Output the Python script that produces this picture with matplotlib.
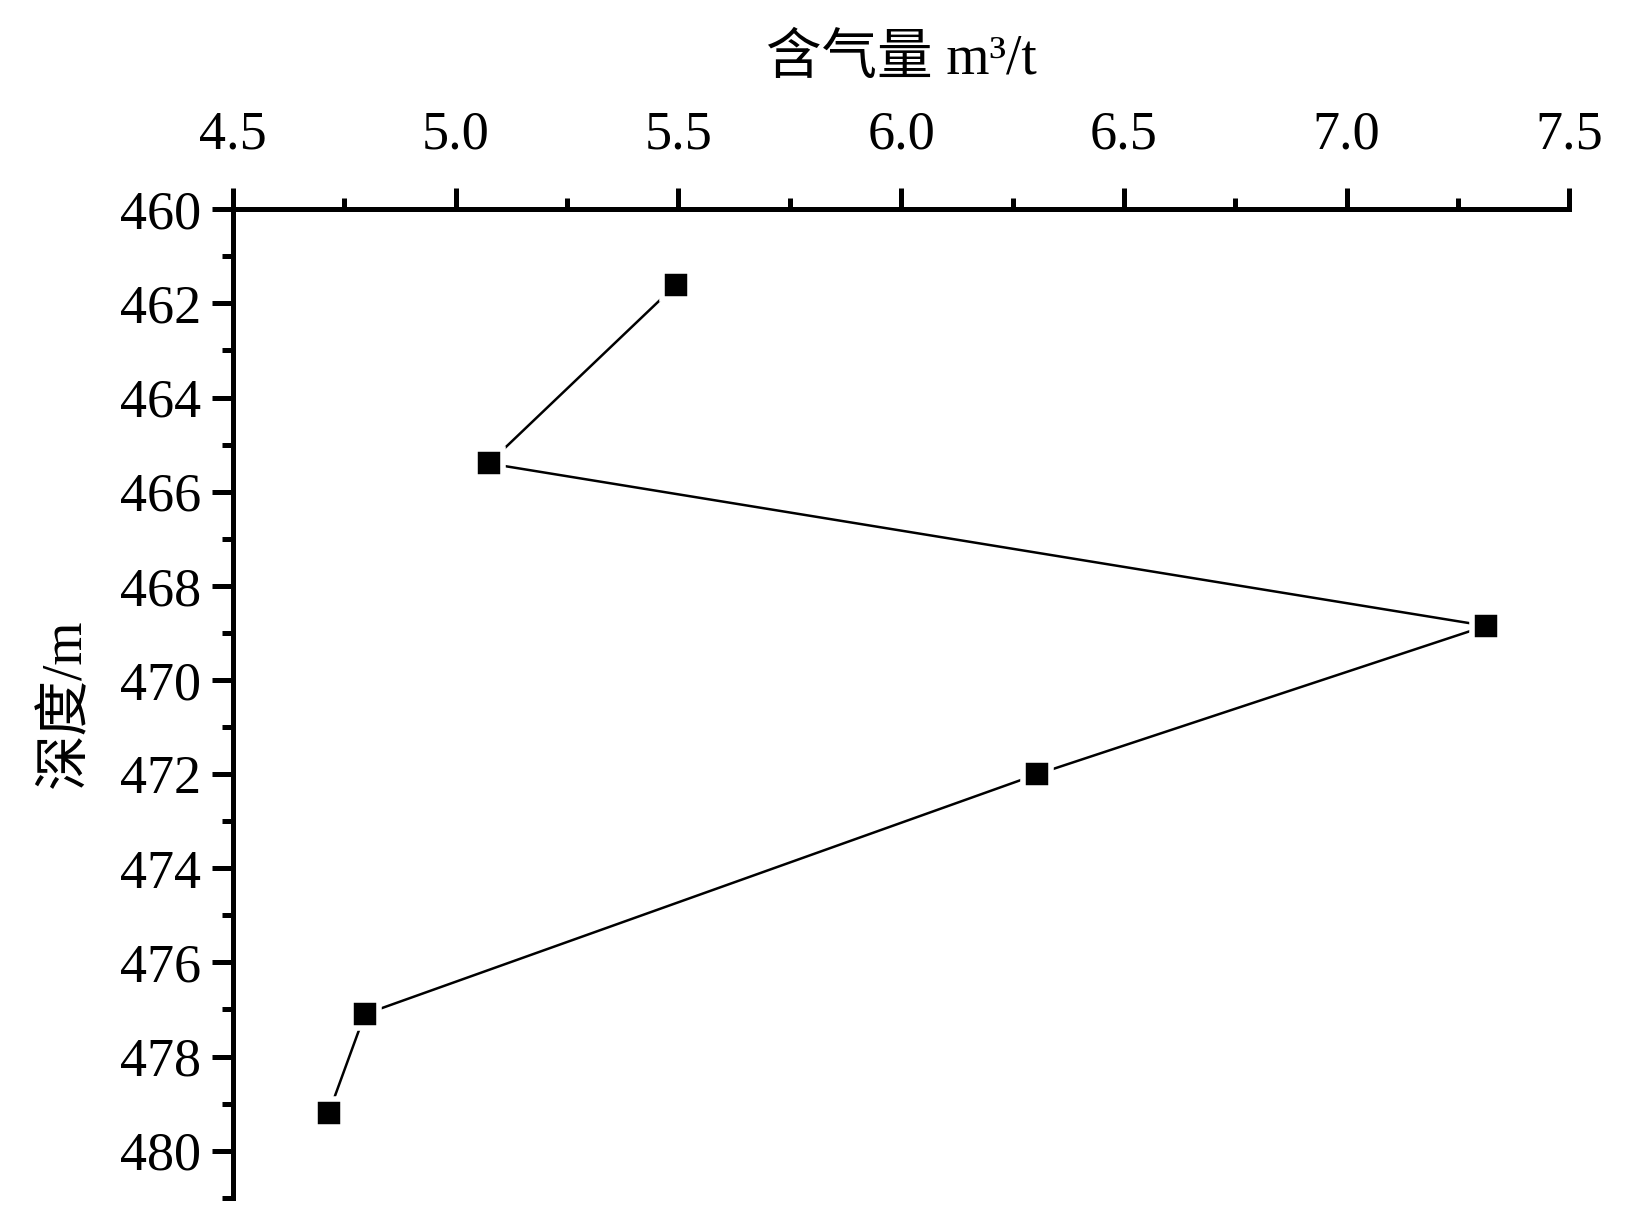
"""Gas content vs depth profile."""

import matplotlib.pyplot as plt
from matplotlib.ticker import MultipleLocator

plt.rcParams["font.family"] = ["Liberation Serif", "Noto Sans CJK SC"]

# data
gas_content = [5.495, 5.074, 7.313, 6.306, 4.796, 4.715]  # m3/t
depth = [461.6, 465.4, 468.85, 472.0, 477.1, 479.2]  # m

X_LABEL = "含气量 m³/t"
Y_LABEL = "深度/m"

fig = plt.figure(figsize=(16.52, 12.31), dpi=100)
ax = fig.add_axes([0.141, 0.027, 0.809, 0.803])

ax.plot(gas_content, depth, color="black", lw=1.8, marker="s", ms=20,
        mfc="black", mec="white", mew=4.0, clip_on=False)

ax.set_xlim(4.5, 7.5)
ax.set_ylim(481, 460)
ax.xaxis.set_major_locator(MultipleLocator(0.5))
ax.xaxis.set_minor_locator(MultipleLocator(0.25))
ax.yaxis.set_major_locator(MultipleLocator(2))
ax.yaxis.set_minor_locator(MultipleLocator(1))
ax.xaxis.set_major_formatter(lambda v, p: f"{v:.1f}")
ax.yaxis.set_major_formatter(lambda v, p: f"{v:.0f}")

ax.xaxis.tick_top()
ax.xaxis.set_label_position("top")
for side in ("right", "bottom"):
    ax.spines[side].set_visible(False)
for side in ("left", "top"):
    ax.spines[side].set_linewidth(3.6)

ax.tick_params(axis="x", which="major", direction="out", length=15, width=3.6,
               labelsize=39, pad=20)
ax.tick_params(axis="x", which="minor", direction="out", length=8, width=3.6)
ax.tick_params(axis="y", which="major", direction="out", length=15, width=3.6,
               labelsize=39, pad=8)
ax.tick_params(axis="y", which="minor", direction="out", length=8, width=3.6)

ax.set_xlabel(X_LABEL, fontsize=40, labelpad=26)
ax.set_ylabel(Y_LABEL, fontsize=40, labelpad=20)

fig.savefig("out.png", dpi=100)
